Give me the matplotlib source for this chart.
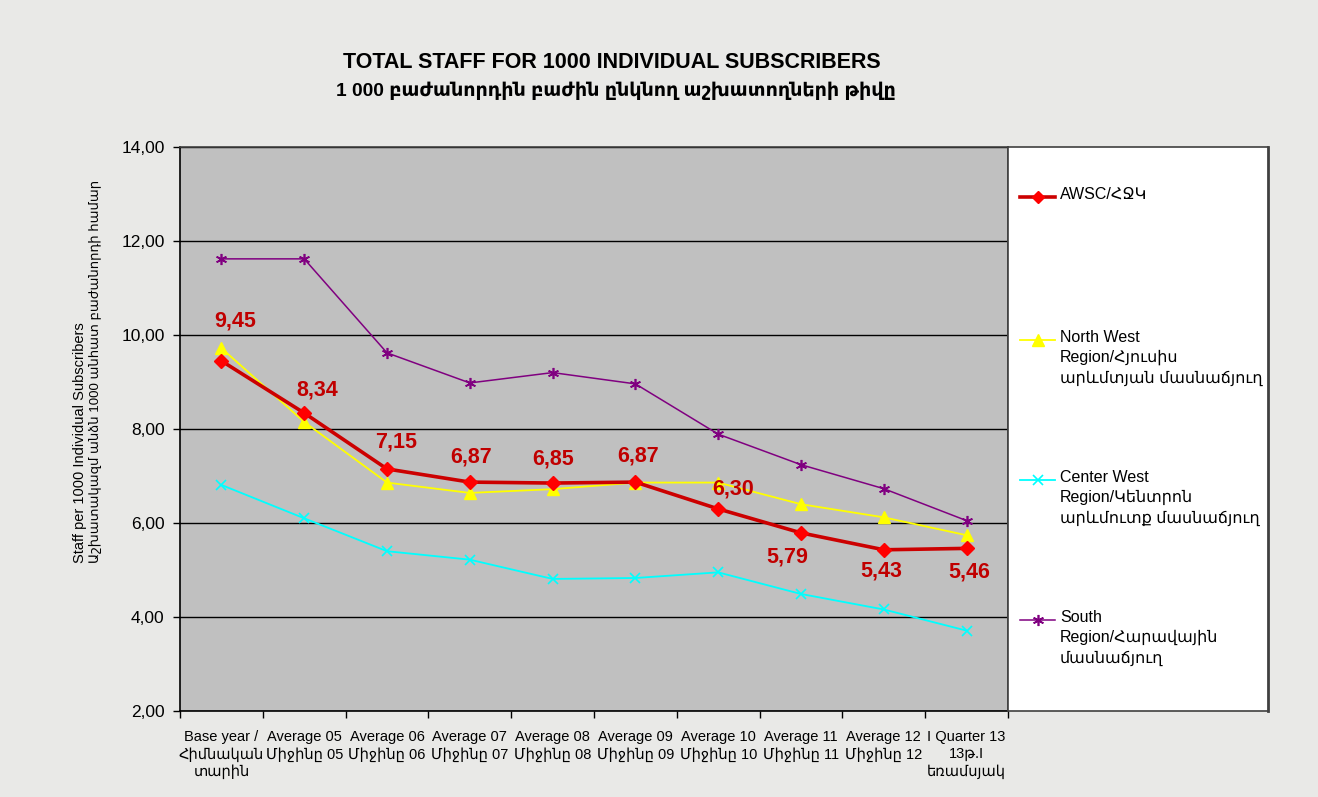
import matplotlib
matplotlib.use("Agg")
import matplotlib.pyplot as plt
from matplotlib.lines import Line2D

plt.rcParams['font.family'] = ['Liberation Sans', 'DejaVu Sans']

categories = [
    "Base year /\nՀիմնական\nտարին",
    "Average 05\nՄիջինը 05",
    "Average 06\nՄիջինը 06",
    "Average 07\nՄիջինը 07",
    "Average 08\nՄիջինը 08",
    "Average 09\nՄիջինը 09",
    "Average 10\nՄիջինը 10",
    "Average 11\nՄիջինը 11",
    "Average 12\nՄիջինը 12",
    "I Quarter 13\n13թ.I\nեռամսյակ",
]
awsc = [9.45, 8.34, 7.15, 6.87, 6.85, 6.87, 6.30, 5.79, 5.43, 5.46]
north_west = [9.72, 8.15, 6.86, 6.64, 6.72, 6.86, 6.86, 6.40, 6.12, 5.74]
center_west = [6.81, 6.10, 5.40, 5.22, 4.81, 4.83, 4.95, 4.49, 4.16, 3.71]
south = [11.62, 11.62, 9.62, 8.98, 9.20, 8.96, 7.89, 7.24, 6.73, 6.05]

series_names = [
    "AWSC/ՀՋԿ",
    "North West\nRegion/Հյուսիս\nարևմտյան մասնաճյուղ",
    "Center West\nRegion/Կենտրոն\nարևմուտք մասնաճյուղ",
    "South\nRegion/Հարավային\nմասնաճյուղ",
]
yticks = [2, 4, 6, 8, 10, 12, 14]
ylabel_en = "Staff per 1000 Individual Subscribers"
ylabel_hy = "Աշխատակազմ անձն 1000 անհատ բաժանորդի համար"

# label offsets in pixels (dx, dy up-positive)
label_offsets = [(14, 40), (13, 23), (9, 27), (1, 25), (1, 24), (3, 26),
                 (15, 20), (-14, -24), (-3, -21), (3, -24)]

W, H = 1318, 797
fig = plt.figure(figsize=(W / 100, H / 100), dpi=100)
fig.patch.set_facecolor('#e9e9e7')

ax = fig.add_axes([180 / W, 1 - 711 / H, 828 / W, 564 / H])
ax.set_facecolor('#c0c0c0')
x = list(range(len(categories)))

ax.plot(x, south, color='#800080', lw=1.1, marker=(6, 2, 0), ms=8, mew=1.2, zorder=3)
ax.plot(x, center_west, color='#00ffff', lw=1.3, marker='x', ms=7, mew=1.2, zorder=3)
ax.plot(x, north_west, color='#ffff00', lw=1.3, marker='^', ms=9, zorder=3)
ax.plot(x, awsc, color='#cc0000', lw=2.6, marker='D', ms=7, mfc='#ff0000', mec='#ff0000', zorder=4)

for xi, v, (dx, dy) in zip(x, awsc, label_offsets):
    ax.annotate(f"{v:.2f}".replace('.', ','), (xi, v), xytext=(dx * 0.72, dy * 0.72),
                textcoords='offset points', ha='center', va='center',
                fontsize=15.5, fontweight='bold', color='#c00000', zorder=5)

ax.set_xlim(-0.5, len(categories) - 0.5)
ax.set_ylim(2, 14)
ax.set_yticks(yticks)
ax.set_yticklabels([f"{t:.2f}".replace('.', ',') for t in yticks], fontsize=12.5)
ax.yaxis.grid(True, color='black', lw=1.0)
ax.set_axisbelow(True)
ax.tick_params(axis='y', direction='out', length=5, width=1, pad=6)

ax.set_xticks(x)
ax.set_xticklabels(categories, fontsize=10.5, linespacing=1.25)
ax.tick_params(axis='x', length=0, pad=14)
ax.set_xticks([i + 0.5 for i in range(-1, len(categories))], minor=True)
ax.tick_params(axis='x', which='minor', direction='out', length=5, width=1)

for s in ['left', 'bottom']:
    ax.spines[s].set_color('black')
    ax.spines[s].set_linewidth(1.2)
for s in ['top', 'right']:
    ax.spines[s].set_color('#404040')
    ax.spines[s].set_linewidth(1.2)

fig.text(80 / W, 1 - 563 / H, ylabel_en, rotation=90, ha='center', va='bottom', fontsize=10.5)
fig.text(95 / W, 1 - 563 / H, ylabel_hy, rotation=90, ha='center', va='bottom', fontsize=9.5)

fig.text(612 / W, 1 - 62 / H, "TOTAL STAFF FOR 1000 INDIVIDUAL SUBSCRIBERS",
         ha='center', va='center', fontsize=15.5, fontweight='bold')
fig.text(616 / W, 1 - 91 / H, "1 000 բաժանորդին բաժին ընկնող աշխատողների թիվը",
         ha='center', va='center', fontsize=13.8, fontweight='bold')

# Legend panel
lax = fig.add_axes([1008 / W, 1 - 711 / H, 260 / W, 564 / H])
lax.set_facecolor('white')
lax.set_xlim(0, 260)
lax.set_ylim(564, 0)
lax.set_xticks([])
lax.set_yticks([])
for s in lax.spines.values():
    s.set_color('#404040')
    s.set_linewidth(1.2)
lax.spines['right'].set_linewidth(2)

legend_styles = [
    dict(color='#cc0000', lw=2.6, marker='D', ms=6, mfc='#ff0000', mec='#ff0000'),
    dict(color='#ffff00', lw=1.3, marker='^', ms=9),
    dict(color='#00ffff', lw=1.3, marker='x', ms=7, mew=1.2),
    dict(color='#800080', lw=1.1, marker=(6, 2, 0), ms=8, mew=1.2),
]
legend_y = [50, 193, 333, 473]
for name, st, ly in zip(series_names, legend_styles, legend_y):
    lax.add_line(Line2D([12, 47], [ly, ly], **{k: v for k, v in st.items() if k not in ('marker', 'ms', 'mfc', 'mec', 'mew')}))
    lax.plot([29.5], [ly], linestyle='none', **{k: v for k, v in st.items() if k != 'lw'})
    lax.text(52, ly - 10, name, ha='left', va='top', fontsize=11.5, linespacing=1.4)

fig.savefig("out.png", dpi=100, facecolor=fig.get_facecolor())
